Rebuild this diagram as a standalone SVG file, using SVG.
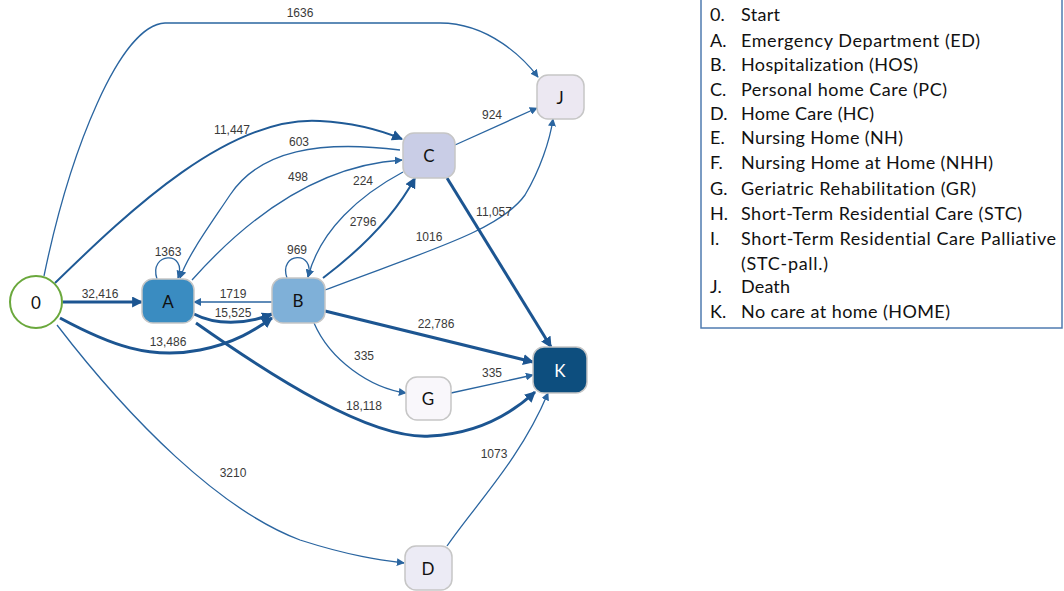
<svg xmlns="http://www.w3.org/2000/svg" width="1064" height="591" viewBox="0 0 1064 591">
<style>
.e{fill:none;stroke:#2a65a0;stroke-width:1.3}
.m{fill:none;stroke:#1f5a96;stroke-width:2}
.t{fill:none;stroke:#1c5591;stroke-width:3}
.lbl{font-family:"Liberation Sans",Arial,sans-serif;font-size:12px;fill:#3a3a3a;text-anchor:middle}
.node{stroke:#c6c6c6;stroke-width:1.5}
.nt{font-family:Lato,"Open Sans",sans-serif;font-size:17px;fill:#111;text-anchor:middle;dominant-baseline:central}
.lg{font-family:Lato,"Open Sans",sans-serif;font-size:18px;fill:#111;font-variant-ligatures:none}
</style>
<defs>
<marker id="a" viewBox="0 0 10 10" refX="9" refY="5" markerWidth="8" markerHeight="8" markerUnits="userSpaceOnUse" orient="auto"><path d="M0,0 L10,5 L0,10 z" fill="#2a65a0"/></marker>
<marker id="b" viewBox="0 0 10 10" refX="9" refY="5" markerWidth="11" markerHeight="11" markerUnits="userSpaceOnUse" orient="auto"><path d="M0,0 L10,5 L0,10 z" fill="#1c5591"/></marker>
</defs>
<rect width="1064" height="591" fill="#fff"/>
<g id="connectors">
<path class="e" marker-end="url(#a)" d="M44 276 C70 150 120 25 165 23 L440 23 C490 23 525 60 538 77"/>
<text class="lbl" x="300" y="17">1636</text>
<path class="m" marker-end="url(#b)" d="M55 283 C130 210 230 115 320 121 C360 123 385 132 402 139"/>
<text class="lbl" x="232" y="134">11,447</text>
<path class="e" marker-end="url(#a)" d="M400 150 C320 140 260 150 230 195 C210 225 188 255 180 278"/>
<text class="lbl" x="299" y="146">603</text>
<path class="e" marker-end="url(#a)" d="M192 280 C250 215 320 165 402 160"/>
<text class="lbl" x="298" y="181">498</text>
<path class="e" marker-end="url(#a)" d="M403 172 C360 195 320 230 308 277"/>
<text class="lbl" x="363" y="185">224</text>
<path class="m" marker-end="url(#b)" d="M323 278 C360 250 395 215 415 178"/>
<text class="lbl" x="363" y="226">2796</text>
<path class="e" marker-end="url(#a)" d="M157 279 C148 252 188 250 178 278"/>
<text class="lbl" x="168" y="256">1363</text>
<path class="e" marker-end="url(#a)" d="M287 278 C278 252 316 250 308 277"/>
<text class="lbl" x="297" y="254">969</text>
<path class="t" stroke-width="4" marker-end="url(#b)" d="M63 302 L142 302"/>
<text class="lbl" x="100" y="298">32,416</text>
<path class="e" marker-end="url(#a)" d="M272 302 L194 302"/>
<text class="lbl" x="233" y="298">1719</text>
<path class="t" marker-end="url(#b)" d="M194 314 C215 325 245 325 272 314"/>
<text class="lbl" x="233" y="317">15,525</text>
<path class="t" marker-end="url(#b)" d="M60 318 C110 345 150 360 200 350 C235 343 255 330 272 318"/>
<text class="lbl" x="168" y="346">13,486</text>
<path class="t" marker-end="url(#b)" d="M196 323 C270 375 370 440 430 436 C475 434 510 415 535 392"/>
<text class="lbl" x="364" y="410">18,118</text>
<path class="t" marker-end="url(#b)" d="M325 311 L533 362"/>
<text class="lbl" x="436" y="328">22,786</text>
<path class="e" marker-end="url(#a)" d="M314 323 C330 360 370 388 406 393"/>
<text class="lbl" x="364" y="360">335</text>
<path class="e" marker-end="url(#a)" d="M451 393 L533 375"/>
<text class="lbl" x="492" y="377">335</text>
<path class="e" marker-end="url(#a)" d="M325 290 C430 250 500 230 525 195 C540 170 550 140 553 119"/>
<text class="lbl" x="429" y="241">1016</text>
<path class="t" marker-end="url(#b)" d="M447 178 L551 347"/>
<text class="lbl" x="494" y="216">11,057</text>
<path class="e" marker-end="url(#a)" d="M455 145 L537 108"/>
<text class="lbl" x="492" y="119">924</text>
<path class="e" marker-end="url(#a)" d="M57 325 C130 420 220 510 300 540 C350 556 380 560 404 563"/>
<text class="lbl" x="233" y="477">3210</text>
<path class="e" marker-end="url(#a)" d="M447 546 C475 505 520 460 548 393"/>
<text class="lbl" x="494" y="458">1073</text>
</g>
<g id="node-0"><circle cx="36" cy="302" r="26" fill="#fff" stroke="#6aa83c" stroke-width="2"/><text class="nt" x="36" y="302">0</text></g>
<g id="node-A"><rect class="node" x="142" y="279" width="52" height="44" rx="11" fill="#3a8cc1"/><text class="nt" x="168" y="301">A</text></g>
<g id="node-B"><rect class="node" x="272" y="278" width="53" height="45" rx="11" fill="#7fb0d8"/><text class="nt" x="298" y="300">B</text></g>
<g id="node-C"><rect class="node" x="403" y="133" width="52" height="45" rx="11" fill="#c9cde6"/><text class="nt" x="429" y="155">C</text></g>
<g id="node-J"><rect class="node" x="537" y="75" width="47" height="44" rx="11" fill="#ece8f2"/><text class="nt" x="560" y="97">J</text></g>
<g id="node-K"><rect class="node" x="533" y="347" width="54" height="46" rx="11" fill="#0d4e7e"/><text class="nt" x="560" y="370" style="fill:#fff">K</text></g>
<g id="node-G"><rect class="node" x="406" y="377" width="45" height="43" rx="11" fill="#f9f7fb"/><text class="nt" x="428" y="398">G</text></g>
<g id="node-D"><rect class="node" x="405" y="546" width="47" height="44" rx="11" fill="#ecebf5"/><text class="nt" x="428" y="568">D</text></g>
<g id="legend">
<rect x="701" y="-2" width="361" height="330" fill="#fff" stroke="#4f7bb0" stroke-width="1.5"/>
<g class="lg">
<text x="710" y="21">0.</text><text x="741" y="21" textLength="39">Start</text>
<text x="710" y="47">A.</text><text x="741" y="47" textLength="239">Emergency Department (ED)</text>
<text x="710" y="71">B.</text><text x="741" y="71" textLength="177">Hospitalization (HOS)</text>
<text x="710" y="96">C.</text><text x="741" y="96" textLength="206">Personal home Care (PC)</text>
<text x="710" y="120">D.</text><text x="741" y="120" textLength="133">Home Care (HC)</text>
<text x="710" y="144">E.</text><text x="741" y="144" textLength="162">Nursing Home (NH)</text>
<text x="710" y="169">F.</text><text x="741" y="169" textLength="252">Nursing Home at Home (NHH)</text>
<text x="710" y="195">G.</text><text x="741" y="195" textLength="235">Geriatric Rehabilitation (GR)</text>
<text x="710" y="220">H.</text><text x="741" y="220" textLength="281">Short-Term Residential Care (STC)</text>
<text x="710" y="245">I.</text><text x="741" y="245" textLength="315">Short-Term Residential Care Palliative</text>
<text x="741" y="270" textLength="87">(STC-pall.)</text>
<text x="710" y="293">J.</text><text x="741" y="293" textLength="49">Death</text>
<text x="710" y="318">K.</text><text x="741" y="318" textLength="209">No care at home (HOME)</text>
</g>
</g>
</svg>
